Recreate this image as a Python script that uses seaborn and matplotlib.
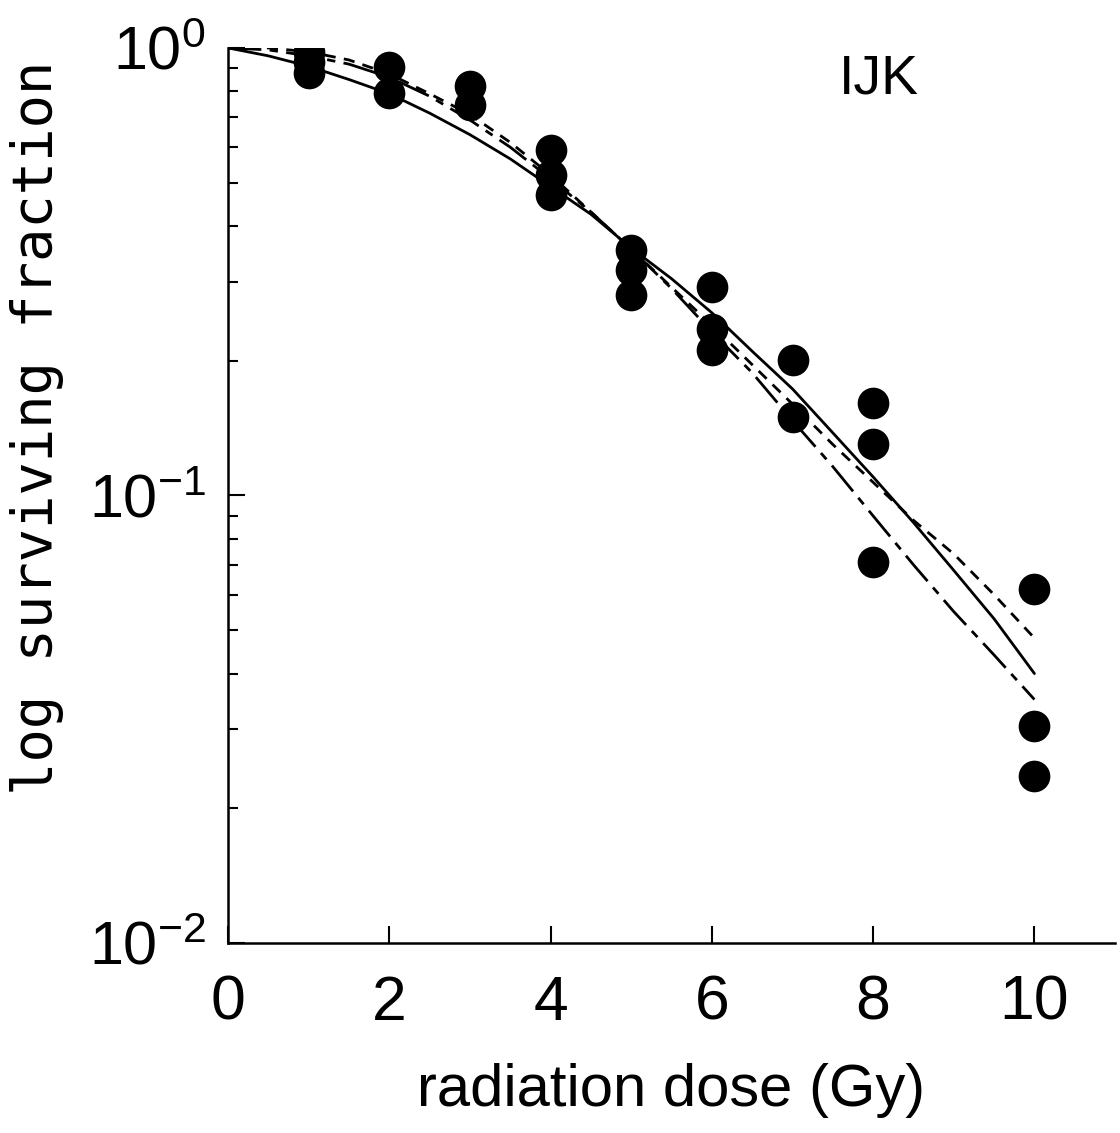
import matplotlib
matplotlib.use("Agg")
import matplotlib.pyplot as plt
import seaborn as sns
import pandas as pd
from matplotlib import font_manager
from matplotlib.ticker import LogLocator, NullFormatter, FixedLocator

# ---------------- data ----------------
dose_pts = [1, 1, 1, 2, 2, 3, 3, 4, 4, 4, 5, 5, 5, 6, 6, 6, 7, 7, 8, 8, 8, 10, 10, 10]
sf_pts = [0.98, 0.93, 0.88, 0.907, 0.793, 0.822, 0.746, 0.592, 0.520, 0.470,
          0.354, 0.319, 0.280, 0.292, 0.235, 0.211, 0.201, 0.150,
          0.161, 0.130, 0.0709, 0.0619, 0.0305, 0.0236]

dose_fit = [0, 0.5, 1, 1.5, 2, 2.5, 3, 3.5, 4, 4.5, 5, 5.5, 6, 6.5, 7, 7.5, 8, 8.5, 9, 9.5, 10]
fit_solid = [1.0, 0.96, 0.91, 0.85, 0.79, 0.715, 0.64, 0.565, 0.49, 0.425, 0.357, 0.305,
             0.256, 0.21, 0.173, 0.138, 0.110, 0.087, 0.068, 0.053, 0.040]
fit_short = [1.0, 1.0, 0.98, 0.94, 0.875, 0.79, 0.71, 0.615, 0.52, 0.43, 0.355, 0.292,
             0.24, 0.196, 0.16, 0.13, 0.107, 0.088, 0.074, 0.06, 0.048]
fit_long = [1.0, 0.99, 0.96, 0.92, 0.86, 0.78, 0.69, 0.60, 0.51, 0.43, 0.355, 0.29,
            0.232, 0.188, 0.147, 0.116, 0.09, 0.07, 0.055, 0.044, 0.035]

x_ticks = [0, 2, 4, 6, 8, 10]
y_ticks = [1e-2, 1e-1, 1e0]
y_ticklabels = [r"$\mathregular{10^{-2}}$", r"$\mathregular{10^{-1}}$", r"$\mathregular{10^{0}}$"]
panel_label = "IJK"
x_label = "radiation dose (Gy)"
y_label = "log surviving fraction"

# ---------------- fonts ----------------
sns.set_theme(style="ticks")
names = {f.name for f in font_manager.fontManager.ttflist}
def pick(*cands):
    for c in cands:
        if c in names:
            return c
    return "DejaVu Sans"
narrow = pick("Liberation Sans Narrow", "Liberation Sans")
sans = pick("Liberation Sans", "DejaVu Sans")
mono = pick("DejaVu Sans Mono", "Liberation Mono")
plt.rcParams["font.family"] = [sans, "DejaVu Sans"]
plt.rcParams["mathtext.fontset"] = "custom"
plt.rcParams["mathtext.rm"] = narrow
plt.rcParams["mathtext.it"] = narrow
plt.rcParams["mathtext.bf"] = narrow
plt.rcParams["mathtext.default"] = "regular"

# ---------------- figure ----------------
fig = plt.figure(figsize=(11.2, 11.33), dpi=100)
ax = fig.add_axes([0.2036, 0.1677, 0.792, 0.790])

pts = pd.DataFrame({"dose": dose_pts, "sf": sf_pts})
fits = pd.DataFrame({"dose": dose_fit, "solid": fit_solid, "short": fit_short, "long": fit_long})

sns.lineplot(data=fits, x="dose", y="solid", ax=ax, color="black", lw=2.0, linestyle="-")
sns.lineplot(data=fits, x="dose", y="short", ax=ax, color="black", lw=2.0,
             linestyle=(0, (4, 3)))
sns.lineplot(data=fits, x="dose", y="long", ax=ax, color="black", lw=2.0,
             linestyle=(0, (12, 3, 3, 3)))
sns.scatterplot(data=pts, x="dose", y="sf", ax=ax, color="black", s=520,
                edgecolor="black", linewidth=0, zorder=3)

ax.set_yscale("log")
ax.set_xlim(0, 11)
ax.set_ylim(1e-2, 1e0)

for side in ["top", "right"]:
    ax.spines[side].set_visible(False)
for side in ["left", "bottom"]:
    ax.spines[side].set_linewidth(1.8)
    ax.spines[side].set_color("black")

ax.xaxis.set_major_locator(FixedLocator(x_ticks))
ax.set_xticklabels([str(t) for t in x_ticks], fontfamily=narrow, fontsize=45)
ax.yaxis.set_major_locator(FixedLocator(y_ticks))
ax.set_yticklabels(y_ticklabels, fontsize=44)
ax.yaxis.set_minor_locator(LogLocator(base=10, subs=range(2, 10)))
ax.yaxis.set_minor_formatter(NullFormatter())

ax.tick_params(axis="x", which="major", direction="in", length=12, width=1.5,
               pad=22, colors="black")
ax.tick_params(axis="y", which="major", direction="in", length=12, width=1.5,
               pad=16, colors="black")
ax.tick_params(axis="y", which="minor", direction="in", length=7, width=1.5,
               colors="black")

ax.set_xlabel(x_label, fontsize=43, fontfamily=sans, labelpad=22, color="black")
ax.set_ylabel(y_label, fontsize=40, fontfamily=mono, color="black")
ax.yaxis.set_label_coords(-0.185, 0.575)

ax.text(8.07, 0.848, panel_label, fontsize=40, fontfamily=sans, ha="center", va="center",
        color="black")

ax.set_facecolor("white")
fig.patch.set_facecolor("white")
ax.grid(False)

fig.savefig("out.png", dpi=100, facecolor="white")
